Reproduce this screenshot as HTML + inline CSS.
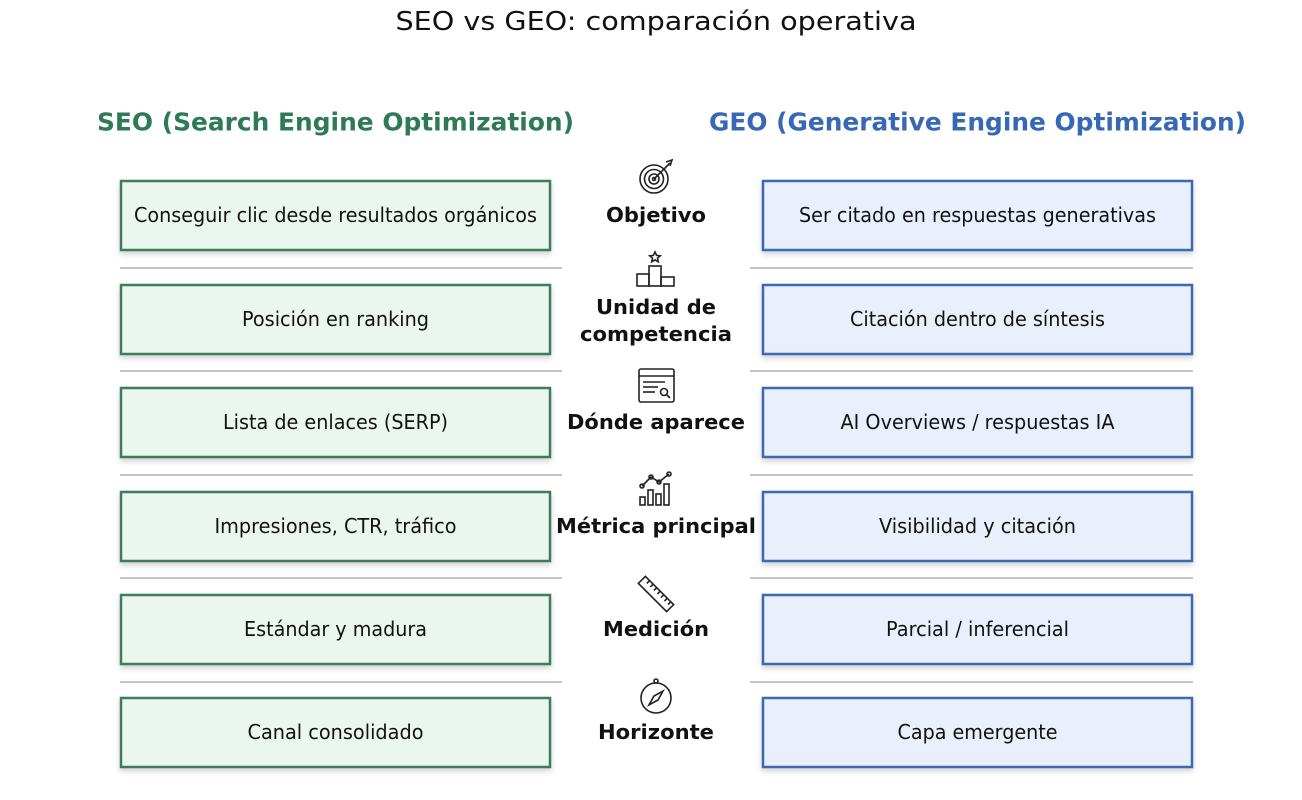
<!DOCTYPE html>
<html><head><meta charset="utf-8"><style>
html,body{margin:0;padding:0;background:#fff;}
svg{display:block;}
text{font-family:"DejaVu Sans","Liberation Sans",sans-serif;}
</style></head><body>
<svg width="1302" height="800" viewBox="0 0 1302 800" xmlns="http://www.w3.org/2000/svg">
<defs>
<filter id="sh" x="-5%" y="-20%" width="110%" height="150%"><feDropShadow dx="0" dy="3" stdDeviation="3" flood-color="#000" flood-opacity="0.18"/></filter>
</defs>
<text x="656" y="22" font-size="26" text-anchor="middle" dominant-baseline="central" fill="#111" textLength="521" lengthAdjust="spacingAndGlyphs">SEO vs GEO: comparación operativa</text>
<text x="335.5" y="122" font-size="25" font-weight="bold" text-anchor="middle" dominant-baseline="central" fill="#2e7a58" textLength="477" lengthAdjust="spacingAndGlyphs">SEO (Search Engine Optimization)</text>
<text x="977.5" y="122" font-size="25" font-weight="bold" text-anchor="middle" dominant-baseline="central" fill="#3668b5" textLength="537" lengthAdjust="spacingAndGlyphs">GEO (Generative Engine Optimization)</text>

<g stroke="#c4c4c4" stroke-width="2">
<line x1="120" y1="268" x2="562" y2="268"/><line x1="750" y1="268" x2="1193" y2="268"/>
<line x1="120" y1="371" x2="562" y2="371"/><line x1="750" y1="371" x2="1193" y2="371"/>
<line x1="120" y1="475" x2="562" y2="475"/><line x1="750" y1="475" x2="1193" y2="475"/>
<line x1="120" y1="578" x2="562" y2="578"/><line x1="750" y1="578" x2="1193" y2="578"/>
<line x1="120" y1="682" x2="562" y2="682"/><line x1="750" y1="682" x2="1193" y2="682"/>
</g>

<g filter="url(#sh)" stroke-width="2.5">
<rect x="121" y="181" width="429" height="69" fill="#eaf6ee" stroke="#3e7b5d"/>
<rect x="121" y="285" width="429" height="69" fill="#eaf6ee" stroke="#3e7b5d"/>
<rect x="121" y="388" width="429" height="69" fill="#eaf6ee" stroke="#3e7b5d"/>
<rect x="121" y="492" width="429" height="69" fill="#eaf6ee" stroke="#3e7b5d"/>
<rect x="121" y="595" width="429" height="69" fill="#eaf6ee" stroke="#3e7b5d"/>
<rect x="121" y="698" width="429" height="69" fill="#eaf6ee" stroke="#3e7b5d"/>
<rect x="763" y="181" width="429" height="69" fill="#e9effb" stroke="#3d69b3"/>
<rect x="763" y="285" width="429" height="69" fill="#e9effb" stroke="#3d69b3"/>
<rect x="763" y="388" width="429" height="69" fill="#e9effb" stroke="#3d69b3"/>
<rect x="763" y="492" width="429" height="69" fill="#e9effb" stroke="#3d69b3"/>
<rect x="763" y="595" width="429" height="69" fill="#e9effb" stroke="#3d69b3"/>
<rect x="763" y="698" width="429" height="69" fill="#e9effb" stroke="#3d69b3"/>
</g>

<g font-size="20.5" fill="#111" text-anchor="middle" dominant-baseline="central">
<text x="335.5" y="215" textLength="403" lengthAdjust="spacingAndGlyphs">Conseguir clic desde resultados orgánicos</text>
<text x="335.5" y="319" textLength="187" lengthAdjust="spacingAndGlyphs">Posición en ranking</text>
<text x="335.5" y="422" textLength="225" lengthAdjust="spacingAndGlyphs">Lista de enlaces (SERP)</text>
<text x="335.5" y="526" textLength="242" lengthAdjust="spacingAndGlyphs">Impresiones, CTR, tráfico</text>
<text x="335.5" y="629" textLength="183" lengthAdjust="spacingAndGlyphs">Estándar y madura</text>
<text x="335.5" y="732" textLength="176" lengthAdjust="spacingAndGlyphs">Canal consolidado</text>
<text x="977.5" y="215" textLength="357" lengthAdjust="spacingAndGlyphs">Ser citado en respuestas generativas</text>
<text x="977.5" y="319" textLength="255" lengthAdjust="spacingAndGlyphs">Citación dentro de síntesis</text>
<text x="977.5" y="422" textLength="274" lengthAdjust="spacingAndGlyphs">AI Overviews / respuestas IA</text>
<text x="977.5" y="526" textLength="197" lengthAdjust="spacingAndGlyphs">Visibilidad y citación</text>
<text x="977.5" y="629" textLength="183" lengthAdjust="spacingAndGlyphs">Parcial / inferencial</text>
<text x="977.5" y="732" textLength="160" lengthAdjust="spacingAndGlyphs">Capa emergente</text>
</g>

<g font-size="20.5" font-weight="bold" fill="#111" text-anchor="middle" dominant-baseline="central">
<text x="656" y="215" textLength="100" lengthAdjust="spacingAndGlyphs">Objetivo</text>
<text x="656" y="307" textLength="120" lengthAdjust="spacingAndGlyphs">Unidad de</text>
<text x="656" y="334" textLength="152" lengthAdjust="spacingAndGlyphs">competencia</text>
<text x="656" y="422" textLength="178" lengthAdjust="spacingAndGlyphs">Dónde aparece</text>
<text x="656" y="526" textLength="200" lengthAdjust="spacingAndGlyphs">Métrica principal</text>
<text x="656" y="629" textLength="106" lengthAdjust="spacingAndGlyphs">Medición</text>
<text x="656" y="732" textLength="116" lengthAdjust="spacingAndGlyphs">Horizonte</text>
</g>

<g fill="none" stroke="#222" stroke-width="1.6">
<circle cx="654" cy="179" r="14"/><circle cx="654" cy="179" r="9.5"/><circle cx="654" cy="179" r="5"/><circle cx="654" cy="179" r="1.5"/>
<line x1="654" y1="179" x2="670" y2="163"/><path d="M666 162 L672 160 L670 166"/>
<rect x="649" y="266" width="12" height="20"/><rect x="637" y="274" width="12" height="12"/><rect x="661" y="277" width="13" height="9"/>
<path d="M655 252 l1.6 3.4 3.6.4 -2.7 2.4.8 3.6 -3.3-1.9 -3.3 1.9.8-3.6 -2.7-2.4 3.6-.4z"/>
<rect x="639" y="369" width="35" height="33" rx="2"/><line x1="639" y1="376" x2="674" y2="376"/>
<line x1="643" y1="382" x2="665" y2="382"/><line x1="643" y1="387" x2="658" y2="387"/><line x1="643" y1="392" x2="655" y2="392"/>
<circle cx="664" cy="392" r="3.5"/><line x1="666.5" y1="394.5" x2="670" y2="398"/>
<rect x="640" y="497" width="5" height="8"/><rect x="648" y="490" width="5" height="15"/><rect x="656" y="494" width="5" height="11"/><rect x="664" y="484" width="5" height="21"/>
<polyline points="642,486 651,477 659,482 669,474"/>
<circle cx="642" cy="486" r="2"/><circle cx="651" cy="477" r="2"/><circle cx="659" cy="482" r="2"/><circle cx="669" cy="474" r="2"/>
<g transform="rotate(45 656 594)"><rect x="636" y="589" width="40" height="10"/>
<path d="M642 589v4M647 589v4M652 589v4M657 589v4M662 589v4M667 589v4M672 589v4"/></g>
<circle cx="656" cy="698" r="15"/><circle cx="656" cy="681" r="2"/>
<path d="M663 691 L658 700 L649 705 L654 696 Z"/>
</g>
</svg>
</body></html>
